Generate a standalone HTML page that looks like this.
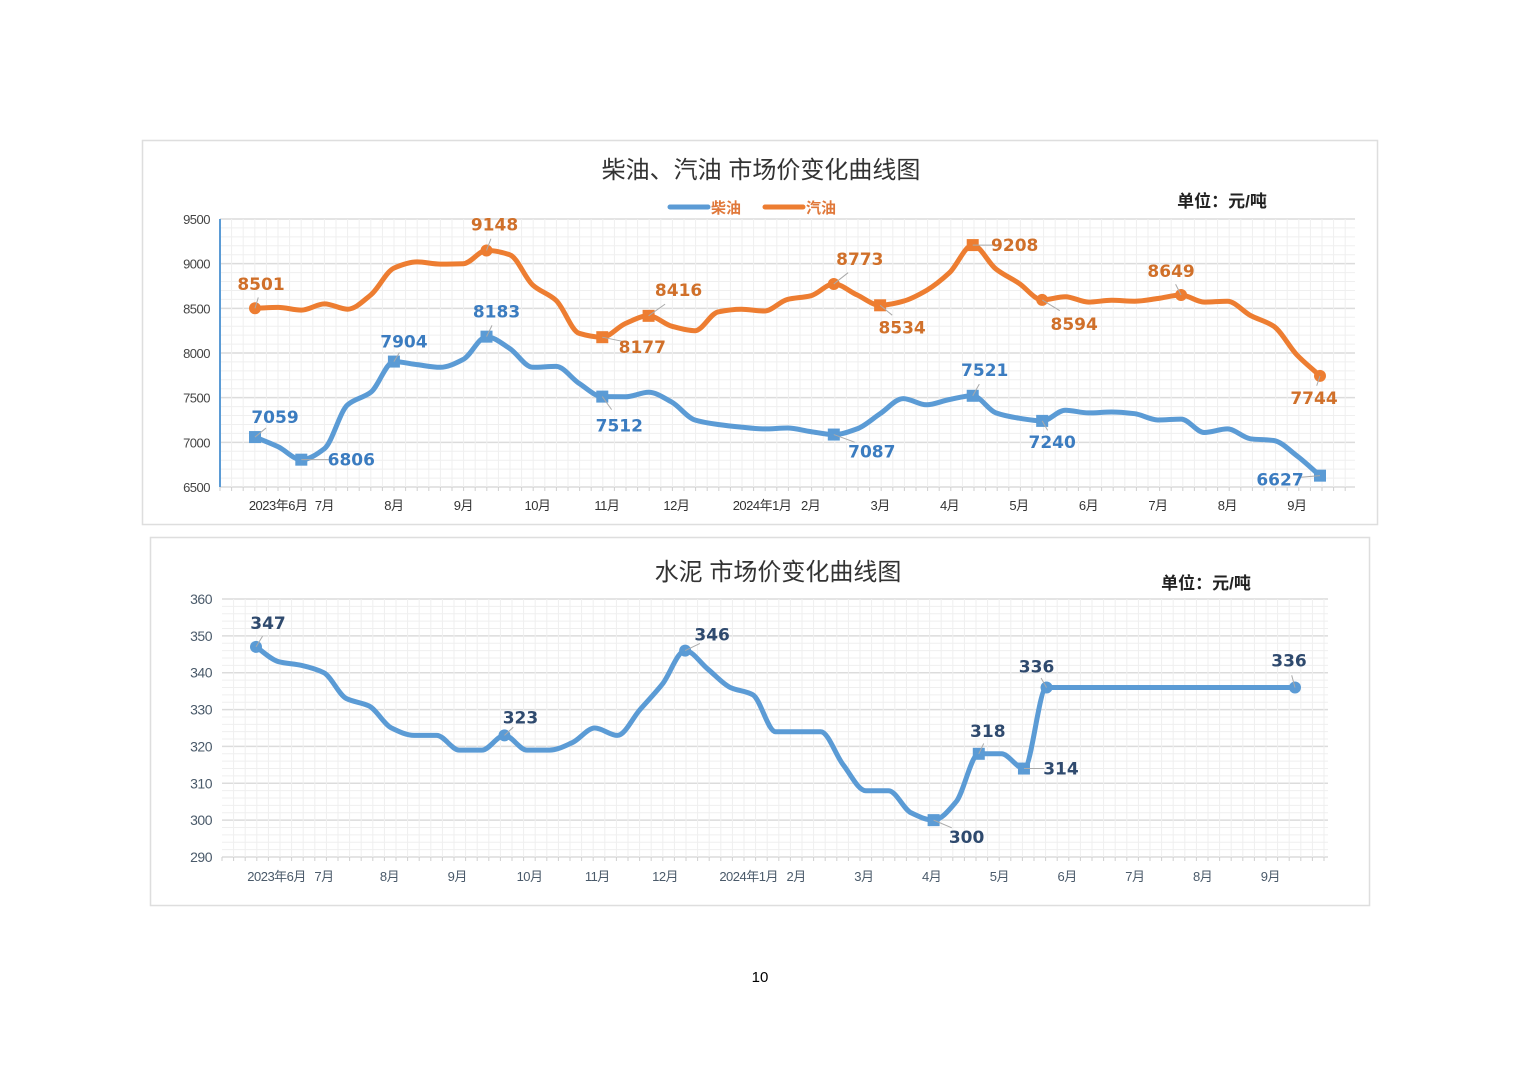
<!DOCTYPE html>
<html><head><meta charset="utf-8">
<style>
html,body{margin:0;padding:0;background:#fff;}
body{width:1520px;height:1074px;position:relative;overflow:hidden;font-family:"Liberation Sans","Noto Sans CJK SC",sans-serif;}
svg{position:absolute;left:0;top:0;}
</style></head>
<body>
<svg id="svg" width="1520" height="1074" viewBox="0 0 1520 1074"></svg>
<script>
// ---- Chart 1 data (diesel / gasoline) ----
const fuelYTicks = [6500, 7000, 7500, 8000, 8500, 9000, 9500];
const fuelMonthLabels = ["2023年6月","7月","8月","9月","10月","11月","12月","2024年1月","2月","3月","4月","5月","6月","7月","8月","9月"];
const fuelMonthPos = [1.0, 3.0, 6.0, 9.0, 12.2, 15.2, 18.2, 21.9, 24.0, 27.0, 30.0, 33.0, 36.0, 39.0, 42.0, 45.0];
const gasoline = [8501,8510,8480,8550,8490,8650,8950,9020,8995,9000,9148,9100,8760,8590,8220,8177,8330,8416,8300,8250,8460,8490,8470,8600,8640,8773,8650,8534,8580,8700,8900,9208,8940,8780,8594,8630,8570,8590,8580,8610,8649,8570,8580,8420,8300,7980,7744];
const diesel = [7059,6950,6806,6930,7420,7560,7904,7870,7840,7930,8183,8050,7840,7850,7660,7512,7510,7560,7450,7250,7200,7170,7150,7160,7120,7087,7150,7320,7490,7420,7480,7521,7330,7270,7240,7360,7330,7340,7320,7250,7260,7110,7150,7040,7020,6850,6627];
const gasMarkIdx = [0,10,15,17,25,27,31,34,40,46];
const gasMarkShape = ["c","c","s","s","c","s","s","c","c","c"];
const gasLabelOff = [[6,-24],[8,-26],[40,10],[30,-26],[26,-25],[22,22],[42,0],[32,24],[-10,-24],[-6,22]];
const dieselMarkIdx = [0,2,6,10,15,25,31,34,46];
const dieselLabelOff = [[20,-20],[50,0],[10,-20],[10,-25],[17,29],[38,17],[12,-26],[10,21],[-40,4]];

// ---- Chart 2 data (cement) ----
const cementYTicks = [290,300,310,320,330,340,350,360];
const cementMonthLabels = ["2023年6月","7月","8月","9月","10月","11月","12月","2024年1月","2月","3月","4月","5月","6月","7月","8月","9月"];
const cementMonthPos = [1.0, 3.1, 6.0, 9.0, 12.2, 15.2, 18.2, 21.9, 24.0, 27.0, 30.0, 33.0, 36.0, 39.0, 42.0, 45.0];
const cementIdx = [0,1,2,3,4,5,6,7,8,9,10,11,12,13,14,15,16,17,18,19,20,21,22,23,24,25,26,27,28,29,30,31,32,33,34,35,46];
const cement = [347,343,342,340,333,331,325,323,323,319,319,323,319,319,321,325,323,330,337,346,341,336,334,324,324,324,315,308,308,302,300,305,318,318,314,336,336];
const cementMarkIdx = [0,11,19,30,32,34,35,36];
const cementMarkShape = ["c","c","c","s","s","s","c","c"];
const cementLabelOff = [[12,-24],[16,-18],[27,-16],[33,17],[9,-23],[37,0],[-10,-21],[-6,-27]];

const NS="http://www.w3.org/2000/svg";
const svg=document.getElementById('svg');
function mk(tag,attrs,parent){const e=document.createElementNS(NS,tag);for(const k in attrs)e.setAttribute(k,attrs[k]);(parent||svg).appendChild(e);return e;}
function txt(s,attrs,parent){const e=mk('text',attrs,parent);e.textContent=s;return e;}
// monotone cubic (Fritsch–Carlson) path
function smooth(pts){
  const n=pts.length;
  const d=[],m=[];
  for(let i=0;i<n-1;i++){d.push((pts[i+1][1]-pts[i][1])/(pts[i+1][0]-pts[i][0]));}
  m[0]=d[0];m[n-1]=d[n-2];
  for(let i=1;i<n-1;i++){
    if(d[i-1]*d[i]<=0)m[i]=0;
    else{
      const h0=pts[i][0]-pts[i-1][0],h1=pts[i+1][0]-pts[i][0];
      const w1=2*h1+h0,w2=h1+2*h0;
      m[i]=(w1+w2)/(w1/d[i-1]+w2/d[i]);
    }
  }
  let s="M"+pts[0][0].toFixed(1)+","+pts[0][1].toFixed(1);
  for(let i=0;i<n-1;i++){
    const h=(pts[i+1][0]-pts[i][0])/3;
    s+=" C"+(pts[i][0]+h).toFixed(1)+","+(pts[i][1]+m[i]*h).toFixed(1)+" "+(pts[i+1][0]-h).toFixed(1)+","+(pts[i+1][1]-m[i+1]*h).toFixed(1)+" "+pts[i+1][0].toFixed(1)+","+pts[i+1][1].toFixed(1);
  }
  return s;
}

function drawGrid(g,x0,x1,yTop,yBot,yTicks,yScale,minorStep){
  const ymin=yTicks[0],ymax=yTicks[yTicks.length-1];
  for(let v=ymin;v<=ymax+1e-9;v+=minorStep){
    const y=yScale(v);
    const major=yTicks.some(t=>Math.abs(t-v)<1e-6);
    const l=mk('line',{x1:x0,x2:x1,y1:y,y2:y,stroke:major?"#dcdcdc":"#efefef","stroke-width":major?1.5:1},g);
    
    
  }
  for(let x=x0+11.6;x<x1;x+=11.6){
    const l=mk('line',{x1:x,x2:x,y1:yTop,y2:yBot,stroke:"#efefef","stroke-width":1},g);
    
    
  }
  for(let x=x0;x<=x1;x+=11.6){
    const l=mk('line',{x1:x,x2:x,y1:yBot,y2:yBot+4,stroke:"#cfcfcf","stroke-width":1},g);
    
    
  }
}
function marker(g,x,y,shape,color,name){
  let m;
  if(shape==="c") m=mk('circle',{cx:x,cy:y,r:6,fill:color},g);
  else m=mk('rect',{x:x-6,y:y-6,width:12,height:12,fill:color},g);
  
  
}

// ================= Chart 1 =================
(function(){
  const g=mk('g',{});
  
  
  const frame=mk('rect',{x:142.5,y:140.5,width:1235,height:384,fill:"#fff",stroke:"#dedede","stroke-width":1.5},g);
  
  
  const x0=220,x1=1355,yTop=219,yBot=487;
  const yScale=v=>yBot-(v-6500)/3000*(yBot-yTop);
  const xScale=i=>255+i*(1320-255)/46;
  drawGrid(g,x0,x1,yTop,yBot,fuelYTicks,yScale,100);
  const ax=mk('line',{x1:x0,x2:x0,y1:yTop,y2:yBot,stroke:"#5b9bd5","stroke-width":2},g);
  
  
  fuelYTicks.forEach(v=>{
    const t=txt(String(v),{x:210,y:yScale(v)+5,"text-anchor":"end","font-size":13,fill:"#444","letter-spacing":"-0.5"},g);
    
    
  });
  fuelMonthLabels.forEach((s,k)=>{
    const t=txt(s,{x:xScale(fuelMonthPos[k]),y:510,"text-anchor":"middle","font-size":13,fill:"#333","letter-spacing":"-0.5"},g);
    
    
  });
  const title=txt("柴油、汽油 市场价变化曲线图",{x:761,y:178,"text-anchor":"middle","font-size":24,fill:"#333"},g);
  
  
  const unit=txt("单位：元/吨",{x:1222,y:207,"text-anchor":"middle","font-size":17,"font-weight":"bold",fill:"#222"},g);
  
  
  const lg=mk('g',{},g);
  
  
  const l1=mk('line',{x1:670,x2:708,y1:207,y2:207,stroke:"#5b9bd5","stroke-width":5,"stroke-linecap":"round"},lg);
  
  
  const lt1=txt("柴油",{x:711,y:213,"font-size":15,"font-weight":"bold",fill:"#e0783a"},lg);
  
  
  const l2=mk('line',{x1:765,x2:803,y1:207,y2:207,stroke:"#ed7d31","stroke-width":5,"stroke-linecap":"round"},lg);
  
  
  const lt2=txt("汽油",{x:806,y:213,"font-size":15,"font-weight":"bold",fill:"#e0783a"},lg);
  
  

  function series(data,color,name,markIdx,shapes,offs,labelColor){
    const pts=data.map((v,i)=>[xScale(i),yScale(v)]);
    const p=mk('path',{d:smooth(pts),fill:"none",stroke:color,"stroke-width":5,"stroke-linejoin":"round","stroke-linecap":"round"},g);
    
    
    markIdx.forEach((i,k)=>{
      const x=xScale(i),y=yScale(data[i]);
      marker(g,x,y,shapes?shapes[k]:"s",color,name+'-marker');
      const o=offs[k];
      const ld=mk('line',{x1:x,y1:y,x2:x+o[0]*0.55,y2:y+o[1]*0.45,stroke:"#aaa","stroke-width":1},g);
      
      
      const t=txt(String(data[i]),{x:x+o[0],y:y+o[1]+6,"text-anchor":"middle","font-size":17,"font-weight":"bold",fill:labelColor,"font-family":"DejaVu Sans, sans-serif"},g);
      
      
    });
  }
  series(gasoline,"#ed7d31","gasoline",gasMarkIdx,gasMarkShape,gasLabelOff,"#d0702a");
  series(diesel,"#5b9bd5","diesel",dieselMarkIdx,null,dieselLabelOff,"#3b7cc0");
})();

// ================= Chart 2 =================
(function(){
  const g=mk('g',{});
  
  
  const frame=mk('rect',{x:150.5,y:537.5,width:1219,height:368,fill:"#fff",stroke:"#dedede","stroke-width":1.5},g);
  
  
  const x0=222,x1=1328,yTop=599,yBot=857;
  const yScale=v=>yBot-(v-290)/70*(yBot-yTop);
  const xScale=i=>256+i*(1295-256)/46;
  drawGrid(g,x0,x1,yTop,yBot,cementYTicks,yScale,2);
  cementYTicks.forEach(v=>{
    const t=txt(String(v),{x:212,y:yScale(v)+5,"text-anchor":"end","font-size":14,fill:"#4a5a6a","letter-spacing":"-0.5"},g);
    
    
  });
  cementMonthLabels.forEach((s,k)=>{
    const t=txt(s,{x:xScale(cementMonthPos[k])-2,y:881,"text-anchor":"middle","font-size":13,fill:"#4a5a6a","letter-spacing":"-0.5"},g);
    
    
  });
  const title=txt("水泥 市场价变化曲线图",{x:778,y:580,"text-anchor":"middle","font-size":24,fill:"#333"},g);
  
  
  const unit=txt("单位：元/吨",{x:1206,y:589,"text-anchor":"middle","font-size":17,"font-weight":"bold",fill:"#222"},g);
  
  
  const pts=cement.map((v,k)=>[xScale(cementIdx[k]),yScale(v)]);
  const p=mk('path',{d:smooth(pts),fill:"none",stroke:"#5b9bd5","stroke-width":5,"stroke-linejoin":"round","stroke-linecap":"round"},g);
  
  
  cementMarkIdx.forEach((j,k)=>{
    const x=xScale(cementIdx[j]),y=yScale(cement[j]);
    marker(g,x,y,cementMarkShape[k],"#5b9bd5",'cement-marker');
    const o=cementLabelOff[k];
    const ld=mk('line',{x1:x,y1:y,x2:x+o[0]*0.55,y2:y+o[1]*0.45,stroke:"#aaa","stroke-width":1},g);
    
    
    const t=txt(String(cement[j]),{x:x+o[0],y:y+o[1]+6,"text-anchor":"middle","font-size":17,"font-weight":"bold",fill:"#2f4a6e","font-family":"DejaVu Sans, sans-serif"},g);
    
    
  });
})();

const pn=txt("10",{x:760,y:982,"text-anchor":"middle","font-size":15,fill:"#000"});


</script>
</body></html>
